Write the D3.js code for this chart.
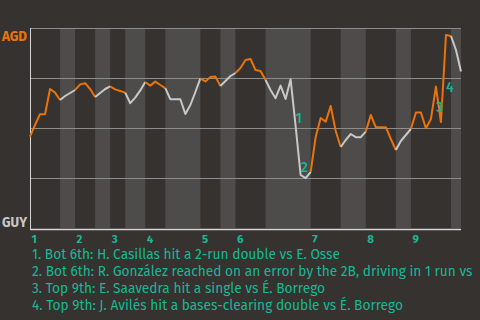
<!DOCTYPE html>
<html><head><meta charset="utf-8">
<script src="https://cdn.jsdelivr.net/npm/d3@7"></script>
<style>html,body{margin:0;padding:0;background:#35322f;overflow:hidden}</style>
</head><body>
<svg id="c" width="480" height="320"></svg>
<script>
// AGD win probability (%) after each plate appearance
const agdWinPct = [45.7,51.5,56.9,56.9,69.5,67.7,64.0,66.0,67.5,69.0,
  71.8,72.4,69.5,65.5,67.5,69.5,70.8,69.3,68.5,67.7,
  62.4,65.2,68.8,73.0,71.2,73.2,71.5,69.9,64.4,64.4,
  64.4,57.0,61.5,68.0,74.8,73.3,75.5,75.7,71.0,73.5,
  76.0,77.5,80.0,84.0,84.5,79.0,78.5,74.0,69.0,64.9,
  71.2,64.5,74.4,51.0,26.5,24.9,28.0,45.5,55.0,53.2,
  61.0,48.5,40.5,44.0,47.0,45.4,45.4,48.2,56.5,50.4,
  50.4,50.4,44.5,39.0,43.5,46.5,49.5,57.7,57.7,49.9,
  54.5,70.7,53.0,96.5,96.0,89.0,78.2];
// half-inning boundaries (plate appearance index)
const halfBounds = [0,6,9,13,16,19,23,27,34,38,41,47,56,62,67,73,76,84,86];
const innings = ["1","2","3","4","5","6","7","8","9"];
const inningStart = [0,9,16,23,34,41,56,67,76];
const yGrid = [25,50,75,100];
const teamTop = "AGD", teamBottom = "GUY";
const annoLabels = ["1","2","3","4"];
const annoIdx = [53,54,81,83];
const annoVal = [52.5,28.2,57.8,68.1];
const notes = [
  "1. Bot 6th: H. Casillas hit a 2-run double vs E. Osse",
  "2. Bot 6th: R. González reached on an error by the 2B, driving in 1 run vs",
  "3. Top 9th: E. Saavedra hit a single vs É. Borrego",
  "4. Top 9th: J. Avilés hit a bases-clearing double vs É. Borrego"
];

const C = {bg:"#35322f", band:"#4e4c4a", grid:"#8e8c8a", axis:"#d6d6d6",
  orange:"#ea730c", gray:"#c8c8c8", teal:"#17b895"};
const FONT = "'Fira Sans', Roboto, 'Noto Sans', sans-serif";

const svg = d3.select("#c");
svg.append("rect").attr("width",480).attr("height",320).attr("fill",C.bg);

const x = d3.scaleLinear().domain([0, agdWinPct.length-1]).range([30,461]);
const y = d3.scaleLinear().domain([0,100]).range([228,28]);

// bottom-half bands
const bandIdx = d3.range(1, halfBounds.length-1, 2);
svg.append("g").selectAll("rect").data(bandIdx).join("rect")
  .attr("x", k=>x(halfBounds[k])).attr("width", k=>x(halfBounds[k+1])-x(halfBounds[k]))
  .attr("y", y(100)).attr("height", y(0)-y(100)).attr("fill", C.band);

// gridlines
const g = svg.append("g").attr("transform",`translate(${x(0)},0)`)
  .call(d3.axisLeft(y).tickValues(yGrid).tickSize(-(x.range()[1]-x.range()[0])).tickFormat(""));
g.select(".domain").remove();
g.selectAll("line").attr("stroke", C.grid).attr("stroke-width",1).attr("shape-rendering","crispEdges");

// axes lines
svg.append("line").attr("x1",x(0)).attr("x2",x(0)).attr("y1",y(100)).attr("y2",y(0)+1.5)
  .attr("stroke",C.axis).attr("stroke-width",1).attr("shape-rendering","crispEdges");
svg.append("line").attr("x1",x(0)).attr("x2",x.range()[1]).attr("y1",y(0)+1.5).attr("y2",y(0)+1.5)
  .attr("stroke",C.axis).attr("stroke-width",1.5);

// line segments by half inning
const line = d3.line().x(i=>x(i)).y(i=>y(agdWinPct[i]));
const segs = d3.range(halfBounds.length-1);
svg.append("g").selectAll("path").data(segs).join("path")
  .attr("d", k=>line(d3.range(halfBounds[k], halfBounds[k+1]+1)))
  .attr("fill","none").attr("stroke", k=> k%2===0 ? C.orange : C.gray)
  .attr("stroke-width",2).attr("stroke-linejoin","round");

// annotations
svg.append("g").selectAll("text").data(annoLabels).join("text")
  .attr("x",(d,i)=>x(annoIdx[i])).attr("y",(d,i)=>y(annoVal[i]))
  .attr("fill",C.teal).attr("font-family",FONT).attr("font-size",14).attr("font-weight",500)
  .text(d=>d);

// team labels
svg.append("text").attr("x",2).attr("y",40.5).text(teamTop)
  .attr("fill",C.orange).attr("font-family",FONT).attr("font-size",14).attr("font-weight","bold")
  .attr("textLength",25).attr("lengthAdjust","spacingAndGlyphs");
svg.append("text").attr("x",2).attr("y",226.5).text(teamBottom)
  .attr("fill",C.gray).attr("font-family",FONT).attr("font-size",14).attr("font-weight","bold")
  .attr("textLength",25).attr("lengthAdjust","spacingAndGlyphs");

// inning labels
svg.append("g").selectAll("text").data(innings).join("text")
  .attr("x",(d,i)=>x(inningStart[i])+1.5).attr("y",242.5)
  .attr("fill",C.teal).attr("font-family",FONT).attr("font-size",11.5).attr("font-weight","bold")
  .text(d=>d);

// notes
svg.append("g").selectAll("text").data(notes).join("text")
  .attr("x",32).attr("y",(d,i)=>259+17*i)
  .attr("fill",C.teal).attr("font-family",FONT).attr("font-size",13.7)
  .text(d=>d);
</script>
</body></html>
